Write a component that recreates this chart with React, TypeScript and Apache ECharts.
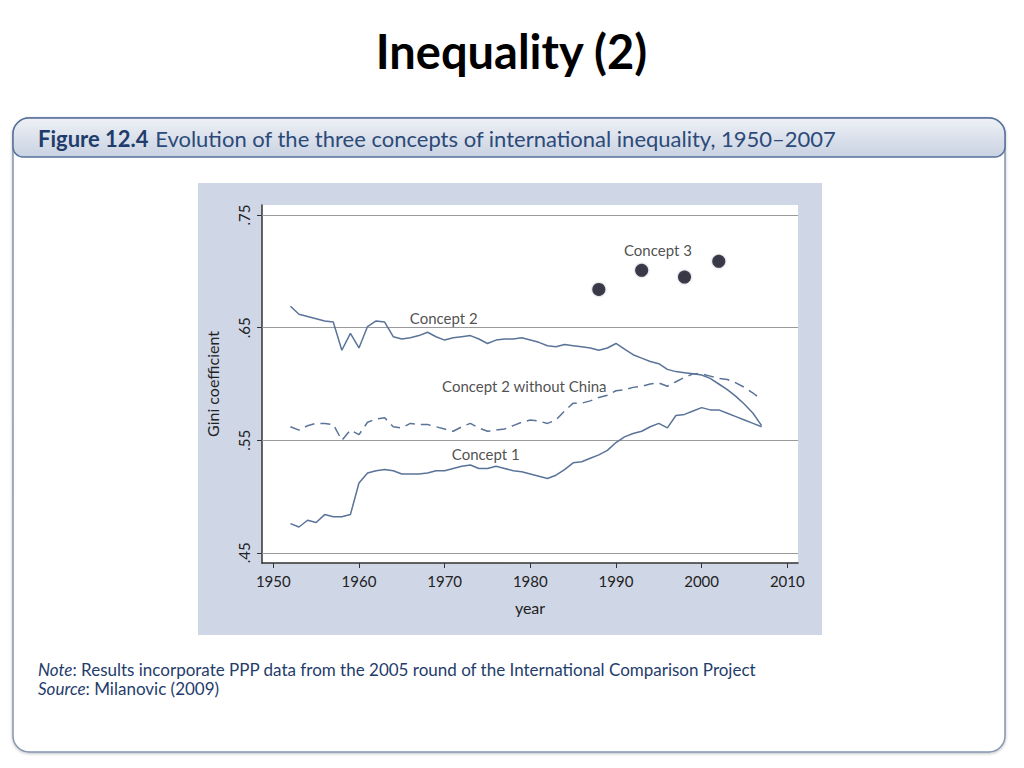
import React, { useEffect, useRef } from "react";
import * as echarts from "echarts";

const years: number[] = [];
for (let y = 1952; y <= 2007; y++) years.push(y);

const concept2 = [
  0.669, 0.662, 0.66, 0.658, 0.656, 0.655, 0.63, 0.645, 0.632, 0.651,
  0.656, 0.655, 0.642, 0.64, 0.641, 0.643, 0.646, 0.642, 0.639, 0.641,
  0.642, 0.643, 0.64, 0.636, 0.639, 0.64, 0.64, 0.641, 0.639, 0.637,
  0.634, 0.633, 0.635, 0.634, 0.633, 0.632, 0.63, 0.632, 0.636, 0.631,
  0.626, 0.623, 0.62, 0.618, 0.613, 0.611, 0.61, 0.609, 0.608, 0.605,
  0.6, 0.595, 0.589, 0.582, 0.574, 0.563,
];

const concept2NoChina = [
  0.562, 0.559, 0.563, 0.565, 0.565, 0.564, 0.55, 0.559, 0.555, 0.566,
  0.569, 0.57, 0.562, 0.561, 0.565, 0.564, 0.564, 0.562, 0.56, 0.558,
  0.562, 0.565, 0.561, 0.558, 0.559, 0.56, 0.563, 0.566, 0.568, 0.567,
  0.565, 0.568, 0.576, 0.583, 0.583, 0.585, 0.588, 0.59, 0.594, 0.595,
  0.597, 0.598, 0.6, 0.601, 0.598, 0.602, 0.606, 0.609, 0.609, 0.607,
  0.605, 0.604, 0.601, 0.597, 0.592, 0.586,
];

const concept1 = [
  0.476, 0.473, 0.479, 0.477, 0.484, 0.482, 0.482, 0.484, 0.512, 0.521,
  0.523, 0.524, 0.523, 0.52, 0.52, 0.52, 0.521, 0.523, 0.523, 0.525,
  0.527, 0.528, 0.525, 0.525, 0.527, 0.525, 0.523, 0.522, 0.52, 0.518,
  0.516, 0.519, 0.524, 0.53, 0.531, 0.534, 0.537, 0.541, 0.548, 0.553,
  0.556, 0.558, 0.562, 0.565, 0.561, 0.572, 0.573, 0.576, 0.579, 0.577,
  0.577, 0.574, 0.571, 0.568, 0.565, 0.562,
];

const concept3Years = [1988, 1993, 1998, 2002];
const concept3Values = [0.684, 0.701, 0.695, 0.709];

const xTicks = [1950, 1960, 1970, 1980, 1990, 2000, 2010];
const yTicks = [0.45, 0.55, 0.65, 0.75];

const seriesLabels = [
  { text: "Concept 3", year: 1994.9, value: 0.719 },
  { text: "Concept 2", year: 1969.9, value: 0.659 },
  { text: "Concept 2 without China", year: 1979.3, value: 0.598 },
  { text: "Concept 1", year: 1974.8, value: 0.538 },
];

const FONT = "Lato, 'Open Sans', sans-serif";
const LINE = "#5a7398";
const NAVY = "#1f3d6b";

export default function App() {
  const ref = useRef<HTMLDivElement>(null);
  useEffect(() => {
    if (!ref.current) return;
    const chart = echarts.init(ref.current, null, { renderer: "svg" });
    const pair = (vals: number[]) => years.map((y, i) => [y, vals[i]]);
    chart.setOption({
      animation: false,
      backgroundColor: "#ffffff",
      graphic: [
        {
          type: "text",
          left: "center",
          top: 27,
          style: {
            text: "Inequality (2)",
            fontFamily: FONT,
            fontWeight: "bold",
            fontSize: 47,
            fill: "#000",
          },
        },
        {
          type: "rect",
          shape: { x: 13, y: 118, width: 992, height: 634, r: 16 },
          style: { fill: "#fff", stroke: "#8494b0", lineWidth: 1.5, shadowBlur: 3, shadowColor: "rgba(0,0,0,0.25)", shadowOffsetY: 1 },
          z: -10,
        },
        {
          type: "rect",
          shape: { x: 13, y: 118, width: 992, height: 39, r: [16, 16, 10, 10] },
          style: {
            fill: new echarts.graphic.LinearGradient(0, 0, 0, 1, [
              { offset: 0, color: "#eef1f6" },
              { offset: 1, color: "#c9d2e2" },
            ]),
            stroke: "#56709a",
            lineWidth: 1.5,
          },
          z: -9,
        },
        {
          type: "text",
          x: 38,
          y: 138,
          style: {
            text: "{b|Figure 12.4}  {n|Evolution of the three concepts of international inequality, 1950–2007}",
            verticalAlign: "middle",
            rich: {
              b: { fontFamily: FONT, fontSize: 22, fontWeight: "bold", fill: NAVY, color: NAVY },
              n: { fontFamily: FONT, fontSize: 22, fill: "#2c4a78", color: "#2c4a78" },
            },
          },
          z: -8,
        },
        {
          type: "rect",
          shape: { x: 198, y: 183, width: 624, height: 452 },
          style: { fill: "#cfd6e6" },
          z: -8,
        },
        {
          type: "text",
          x: 38,
          y: 660,
          style: {
            text: "{i|Note}{n|: Results incorporate PPP data from the 2005 round of the International Comparison Project}\n{i|Source}{n|: Milanovic (2009)}",
            rich: {
              i: { fontFamily: FONT, fontStyle: "italic", fontSize: 17, fill: NAVY, color: NAVY, lineHeight: 19 },
              n: { fontFamily: FONT, fontSize: 17, fill: NAVY, color: NAVY, lineHeight: 19 },
            },
          },
          z: -8,
        },
      ],
      grid: {
        left: 262,
        top: 205,
        width: 536,
        height: 358,
        show: true,
        backgroundColor: "#ffffff",
        borderWidth: 0,
        containLabel: false,
      },
      xAxis: {
        type: "value",
        min: 1948.68,
        max: 2011.25,
        name: "year",
        nameLocation: "middle",
        nameGap: 36,
        nameTextStyle: { fontFamily: FONT, fontSize: 16, color: "#222" },
        axisLine: { show: true, onZero: false, lineStyle: { color: "#333", width: 1.5 } },
        axisTick: { show: true, length: 5, customValues: xTicks, lineStyle: { color: "#333" } },
        axisLabel: {
          customValues: xTicks,
          margin: 10,
          fontFamily: FONT,
          fontSize: 15,
          color: "#222",
          formatter: (v: number) => String(Math.round(v)),
        },
        splitLine: { show: false },
      },
      yAxis: {
        type: "value",
        min: 0.441,
        max: 0.759,
        name: "Gini coefficient",
        nameLocation: "middle",
        nameGap: 42,
        nameRotate: 90,
        nameTextStyle: { fontFamily: FONT, fontSize: 16, color: "#222" },
        axisLine: { show: true, onZero: false, lineStyle: { color: "#333", width: 1.5 } },
        axisTick: { show: true, length: 5, customValues: yTicks, lineStyle: { color: "#333" } },
        axisLabel: {
          customValues: yTicks,
          rotate: 90,
          margin: 11,
          fontFamily: FONT,
          fontSize: 15,
          color: "#222",
          formatter: (v: number) => v.toFixed(2).replace(/^0/, ""),
        },
        splitLine: { show: false },
      },
      series: [
        {
          type: "line",
          name: "Concept 2",
          data: pair(concept2),
          showSymbol: false,
          lineStyle: { color: LINE, width: 1.5 },
          markLine: {
            silent: true,
            symbol: "none",
            label: { show: false },
            lineStyle: { color: "#9a9a9a", width: 1, type: "solid" },
            data: yTicks.map((v) => ({ yAxis: v })),
            z: 1,
          },
          z: 3,
        },
        {
          type: "line",
          name: "Concept 2 without China",
          data: pair(concept2NoChina),
          showSymbol: false,
          lineStyle: { color: LINE, width: 1.5, type: [10, 6] },
          z: 3,
        },
        {
          type: "line",
          name: "Concept 1",
          data: pair(concept1),
          showSymbol: false,
          lineStyle: { color: LINE, width: 1.5 },
          z: 3,
        },
        {
          type: "scatter",
          name: "Concept 3",
          data: concept3Years.map((y, i) => [y, concept3Values[i]]),
          symbolSize: 13,
          itemStyle: { color: "#15152a", shadowBlur: 2, shadowColor: "rgba(0,0,0,0.4)" },
          z: 4,
        },
        {
          type: "scatter",
          name: "labels",
          data: seriesLabels.map((l) => ({ value: [l.year, l.value], name: l.text })),
          symbolSize: 0,
          silent: true,
          label: {
            show: true,
            position: "inside",
            formatter: (p: any) => p.name,
            fontFamily: FONT,
            fontSize: 15,
            color: "#222",
          },
          z: 5,
        },
      ],
    });
    return () => chart.dispose();
  }, []);
  return (
    <div
      ref={ref}
      style={{ position: "fixed", left: 0, top: 0, width: 1024, height: 768 }}
    />
  );
}
